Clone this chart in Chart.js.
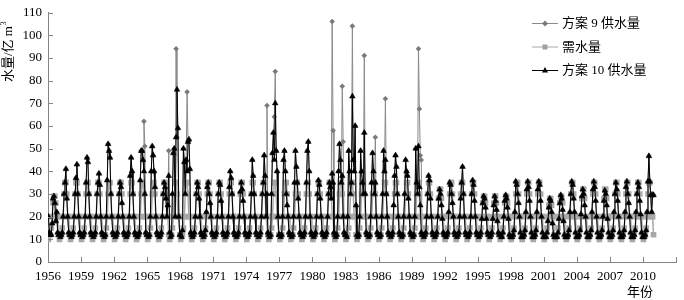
<!DOCTYPE html>
<html>
<head>
<meta charset="utf-8">
<script src="https://cdn.jsdelivr.net/npm/chart.js@4.4.1/dist/chart.umd.min.js"></script>
<style>
  html, body { margin: 0; padding: 0; background: #fff; }
  #wrap { position: relative; width: 684px; height: 300px; }
</style>
</head>
<body>
<div id="wrap"><canvas id="waterChart" width="684" height="300"></canvas></div>
<script>
// monthly series, Jan..Dec, one row per year 1956-2010
const startYear = 1956;
const tickYears = [1956, 1959, 1962, 1965, 1968, 1971, 1974, 1977, 1980, 1983, 1986, 1989, 1992, 1995, 1998, 2001, 2004, 2007, 2010];
const yTicks = [0, 10, 20, 30, 40, 50, 60, 70, 80, 90, 100, 110];

const supply10 = [
  20, 13, 12, 12, 17, 28, 29, 26, 18, 22, 13, 12, // 1956
  12, 11, 12, 13, 20, 30, 35, 41, 28, 20, 13, 12,
  12, 11, 12, 13, 20, 30, 37, 43, 30, 20, 13, 12,
  12, 11, 12, 13, 20, 35, 46, 44, 30, 20, 13, 12,
  12, 11, 12, 13, 20, 30, 35, 39, 34, 20, 13, 12, // 1960
  12, 11, 12, 20, 36, 52, 49, 46, 30, 20, 13, 12,
  12, 11, 12, 13, 20, 30, 35, 33, 26, 20, 13, 12,
  12, 11, 12, 13, 20, 38, 46, 40, 30, 20, 13, 12,
  12, 11, 12, 13, 36, 49, 49, 45, 40, 30, 13, 12,
  12, 11, 12, 20, 40, 51, 47, 40, 33, 20, 13, 12, // 1965
  12, 11, 12, 13, 20, 30, 35, 33, 28, 20, 25, 38,
  13, 11, 12, 30, 48, 50, 20, 55, 76, 59, 20, 12,
  12, 11, 14, 50, 44, 30, 45, 40, 53, 54, 41, 13,
  12, 11, 12, 13, 20, 30, 35, 33, 28, 20, 13, 12,
  12, 11, 12, 14, 22, 33, 35, 30, 26, 20, 13, 12, // 1970
  12, 11, 12, 13, 20, 30, 35, 34, 27, 20, 13, 12,
  12, 11, 12, 13, 20, 33, 40, 37, 30, 20, 13, 12,
  12, 11, 12, 13, 20, 31, 35, 32, 27, 20, 13, 12,
  12, 11, 12, 13, 20, 30, 45, 38, 30, 20, 13, 12,
  12, 11, 12, 13, 20, 30, 35, 47, 38, 20, 30, 13, // 1975
  12, 11, 12, 30, 48, 57, 45, 70, 49, 40, 20, 12,
  12, 11, 12, 20, 45, 49, 40, 30, 25, 20, 13, 12,
  12, 11, 12, 20, 35, 49, 42, 35, 28, 20, 13, 12,
  12, 11, 12, 13, 20, 35, 49, 53, 40, 20, 13, 12,
  12, 11, 12, 13, 20, 30, 36, 34, 28, 20, 13, 12, // 1980
  12, 11, 12, 13, 20, 30, 35, 33, 28, 39, 35, 13,
  12, 11, 12, 20, 40, 52, 45, 35, 38, 20, 13, 12,
  12, 11, 20, 49, 40, 30, 35, 73, 45, 40, 60, 25,
  12, 11, 12, 20, 49, 40, 35, 30, 57, 30, 13, 12,
  12, 11, 12, 20, 35, 48, 40, 30, 35, 20, 13, 12, // 1985
  12, 11, 12, 20, 30, 49, 40, 45, 30, 20, 13, 12,
  12, 11, 12, 13, 25, 38, 47, 42, 30, 20, 13, 12,
  12, 11, 12, 20, 30, 45, 40, 38, 28, 20, 13, 12,
  12, 11, 12, 20, 50, 35, 30, 51, 33, 25, 13, 12,
  12, 11, 12, 13, 20, 30, 38, 36, 28, 20, 13, 12, // 1990
  12, 11, 12, 13, 20, 28, 32, 30, 25, 19, 13, 12,
  12, 11, 12, 13, 22, 35, 34, 30, 26, 20, 13, 12,
  12, 11, 12, 13, 20, 28, 35, 42, 30, 20, 13, 12,
  12, 11, 12, 13, 20, 30, 36, 34, 27, 20, 13, 12,
  12, 11, 12, 13, 19, 26, 29, 28, 24, 19, 13, 12, // 1995
  12, 11, 12, 13, 19, 25, 29, 27, 23, 18, 13, 12,
  12, 11, 11, 13, 20, 27, 29.5, 28, 24, 19, 12, 11,
  11, 11, 12, 14, 22, 35.5, 34, 30, 26, 20, 13, 11,
  11, 11, 12, 14, 22, 32, 35.5, 33, 27, 20, 13, 11,
  11, 11, 12, 14, 22, 32, 35.5, 34, 27, 20, 13, 11, // 2000
  11, 11, 11, 13, 18, 24, 28, 27, 22, 17, 12, 11,
  11, 11, 11, 13, 19, 26, 29.5, 28, 23, 18, 12, 11,
  11, 11, 12, 14, 22, 30, 35.5, 34, 28, 22, 13, 11,
  11, 11, 12, 14, 21, 29, 32, 30, 25, 20, 13, 11,
  11, 11, 12, 14, 22, 32, 35.5, 33, 27, 20, 13, 11, // 2005
  11, 11, 12, 14, 20, 27, 31.5, 30, 25, 19, 13, 11,
  11, 11, 12, 14, 22, 30, 35, 32, 27, 20, 13, 11,
  11, 11, 12, 14, 22, 33, 35.5, 30, 26, 20, 13, 11,
  11, 11, 12, 14, 22, 30, 35, 33, 27, 21, 13, 11,
  11, 11, 12, 14, 22, 35.5, 46.7, 35.5, 29.5, 22, 29.5, 29.5 // 2010
];

const supply9 = [
  20, 13, 12, 12, 17, 28, 29, 26, 18, 22, 13, 12, // 1956
  12, 11, 12, 13, 20, 30, 35, 41, 28, 20, 13, 12,
  12, 11, 12, 13, 20, 30, 37, 43, 30, 20, 13, 12,
  12, 11, 12, 13, 20, 35, 46, 44, 30, 20, 13, 12,
  12, 11, 12, 13, 20, 30, 35, 39, 34, 20, 13, 12, // 1960
  12, 11, 12, 20, 36, 52, 49, 46, 30, 20, 13, 12,
  12, 11, 12, 13, 20, 30, 35, 33, 26, 20, 13, 12,
  12, 11, 12, 13, 20, 38, 46, 40, 30, 20, 13, 12,
  12, 11, 12, 13, 36, 49, 49, 45, 62, 51, 13, 12,
  12, 11, 12, 20, 40, 51, 47, 40, 33, 20, 13, 12, // 1965
  12, 11, 12, 13, 20, 30, 35, 33, 28, 20, 25, 49,
  13, 11, 12, 30, 48, 50, 20, 94, 55, 59, 20, 12,
  12, 11, 14, 50, 44, 30, 45, 75, 53, 54, 41, 13,
  12, 11, 12, 13, 20, 30, 35, 33, 28, 20, 13, 12,
  12, 11, 12, 14, 22, 33, 35, 30, 26, 20, 13, 12, // 1970
  12, 11, 12, 13, 20, 30, 35, 34, 27, 20, 13, 12,
  12, 11, 12, 13, 20, 33, 40, 37, 30, 20, 13, 12,
  12, 11, 12, 13, 20, 31, 35, 32, 27, 20, 13, 12,
  12, 11, 12, 13, 20, 30, 45, 38, 30, 20, 13, 12,
  12, 11, 12, 13, 20, 30, 35, 47, 38, 20, 69, 13, // 1975
  12, 11, 12, 30, 48, 57, 64, 84, 49, 40, 20, 12,
  12, 11, 12, 20, 45, 49, 40, 30, 25, 20, 13, 12,
  12, 11, 12, 20, 35, 49, 42, 35, 28, 20, 13, 12,
  12, 11, 12, 13, 20, 35, 49, 53, 40, 20, 13, 12,
  12, 11, 12, 13, 20, 30, 36, 34, 28, 20, 13, 12, // 1980
  12, 11, 12, 13, 20, 30, 35, 33, 28, 106, 58, 13,
  12, 11, 12, 20, 40, 52, 45, 35, 77.5, 53, 13, 12,
  12, 11, 20, 49, 40, 30, 35, 104, 45, 40, 60, 25,
  12, 11, 12, 20, 49, 40, 35, 30, 91, 30, 13, 12,
  12, 11, 12, 20, 35, 48, 40, 30, 55, 20, 13, 12, // 1985
  12, 11, 12, 20, 30, 49, 40, 72, 30, 20, 13, 12,
  12, 11, 12, 13, 25, 38, 47, 42, 30, 20, 13, 12,
  12, 11, 12, 20, 30, 45, 40, 38, 28, 20, 13, 12,
  12, 11, 12, 20, 50, 35, 30, 94, 67.5, 47, 45, 12,
  12, 11, 12, 13, 20, 30, 38, 36, 28, 20, 13, 12, // 1990
  12, 11, 12, 13, 20, 28, 32, 30, 25, 19, 13, 12,
  12, 11, 12, 13, 22, 35, 34, 30, 26, 20, 13, 12,
  12, 11, 12, 13, 20, 28, 35, 42, 30, 20, 13, 12,
  12, 11, 12, 13, 20, 30, 36, 34, 27, 20, 13, 12,
  12, 11, 12, 13, 19, 26, 29, 28, 24, 19, 13, 12, // 1995
  12, 11, 12, 13, 19, 25, 29, 27, 23, 18, 13, 12,
  12, 11, 11, 13, 20, 27, 29.5, 28, 24, 19, 12, 11,
  11, 11, 12, 14, 22, 35.5, 34, 30, 26, 20, 13, 11,
  11, 11, 12, 14, 22, 32, 35.5, 33, 27, 20, 13, 11,
  11, 11, 12, 14, 22, 32, 35.5, 34, 27, 20, 13, 11, // 2000
  11, 11, 11, 13, 18, 24, 28, 27, 22, 17, 12, 11,
  11, 11, 11, 13, 19, 26, 29.5, 28, 23, 18, 12, 11,
  11, 11, 12, 14, 22, 30, 35.5, 34, 28, 22, 13, 11,
  11, 11, 12, 14, 21, 29, 32, 30, 25, 20, 13, 11,
  11, 11, 12, 14, 22, 32, 35.5, 33, 27, 20, 13, 11, // 2005
  11, 11, 12, 14, 20, 27, 31.5, 30, 25, 19, 13, 11,
  11, 11, 12, 14, 22, 30, 35, 32, 27, 20, 13, 11,
  11, 11, 12, 14, 22, 33, 35.5, 30, 26, 20, 13, 11,
  11, 11, 12, 14, 22, 30, 35, 33, 27, 21, 13, 11,
  11, 11, 12, 14, 22, 35.5, 46.7, 35.5, 29.5, 22, 29.5, 29.5 // 2010
];

const demand = [
  10, 12, 12, 15, 20, 26, 29, 29, 26, 20, 20, 12, // 1956
  10, 12, 12, 15, 20, 30, 35, 35, 30, 20, 20, 12,
  10, 12, 12, 15, 20, 30, 35, 35, 30, 20, 20, 12,
  10, 12, 12, 15, 20, 30, 35, 35, 30, 20, 20, 12,
  10, 12, 12, 15, 20, 30, 35, 35, 30, 20, 20, 12, // 1960
  10, 12, 12, 15, 20, 30, 35, 35, 30, 20, 20, 12,
  10, 12, 12, 15, 20, 30, 35, 35, 30, 20, 20, 12,
  10, 12, 12, 15, 20, 30, 35, 35, 30, 20, 20, 12,
  10, 12, 12, 15, 20, 30, 35, 35, 30, 20, 20, 12,
  10, 12, 12, 15, 20, 30, 35, 35, 30, 20, 20, 12, // 1965
  10, 12, 12, 15, 20, 30, 35, 35, 30, 20, 20, 12,
  10, 12, 12, 15, 20, 30, 35, 35, 30, 20, 20, 12,
  10, 12, 12, 15, 20, 30, 35, 35, 30, 20, 20, 12,
  10, 12, 12, 15, 20, 30, 35, 35, 30, 20, 20, 12,
  10, 12, 12, 15, 20, 30, 35, 35, 30, 20, 20, 12, // 1970
  10, 12, 12, 15, 20, 30, 35, 35, 30, 20, 20, 12,
  10, 12, 12, 15, 20, 30, 35, 35, 30, 20, 20, 12,
  10, 12, 12, 15, 20, 30, 35, 35, 30, 20, 20, 12,
  10, 12, 12, 15, 20, 30, 35, 35, 30, 20, 20, 12,
  10, 12, 12, 15, 20, 30, 35, 35, 30, 20, 20, 12, // 1975
  10, 12, 12, 15, 20, 30, 35, 35, 30, 20, 20, 12,
  10, 12, 12, 15, 20, 30, 35, 35, 30, 20, 20, 12,
  10, 12, 12, 15, 20, 30, 35, 35, 30, 20, 20, 12,
  10, 12, 12, 15, 20, 30, 35, 35, 30, 20, 20, 12,
  10, 12, 12, 15, 20, 30, 35, 35, 30, 20, 20, 12, // 1980
  10, 12, 12, 15, 20, 30, 35, 35, 30, 20, 20, 12,
  10, 12, 12, 15, 20, 30, 35, 35, 30, 20, 20, 12,
  10, 12, 12, 15, 20, 30, 35, 35, 30, 20, 20, 12,
  10, 12, 12, 15, 20, 30, 35, 35, 30, 20, 20, 12,
  10, 12, 12, 15, 20, 30, 35, 35, 30, 20, 20, 12, // 1985
  10, 12, 12, 15, 20, 30, 35, 35, 30, 20, 20, 12,
  10, 12, 12, 15, 20, 30, 35, 35, 30, 20, 20, 12,
  10, 12, 12, 15, 20, 30, 35, 35, 30, 20, 20, 12,
  10, 12, 12, 15, 20, 30, 35, 35, 30, 20, 20, 12,
  10, 12, 12, 15, 20, 30, 35, 35, 30, 20, 20, 12, // 1990
  10, 12, 12, 15, 20, 28, 32, 32, 28, 20, 20, 12,
  10, 12, 12, 15, 20, 30, 35, 35, 30, 20, 20, 12,
  10, 12, 12, 15, 20, 30, 35, 35, 30, 20, 20, 12,
  10, 12, 12, 15, 20, 30, 35, 35, 30, 20, 20, 12,
  10, 12, 12, 15, 20, 26, 29, 29, 26, 20, 20, 12, // 1995
  10, 12, 12, 15, 20, 26, 29, 29, 26, 20, 20, 12,
  10, 12, 12, 15, 20, 26, 29, 29, 26, 20, 20, 12,
  10, 12, 12, 15, 20, 30, 35, 35, 30, 20, 20, 12,
  10, 12, 12, 15, 20, 30, 35, 35, 30, 20, 20, 12,
  10, 12, 12, 15, 20, 30, 35, 35, 30, 20, 20, 12, // 2000
  10, 12, 12, 15, 20, 25, 28, 28, 25, 20, 20, 12,
  10, 12, 12, 15, 20, 26, 29, 29, 26, 20, 20, 12,
  10, 12, 12, 15, 20, 30, 35, 35, 30, 20, 20, 12,
  10, 12, 12, 15, 20, 28, 32, 32, 28, 20, 20, 12,
  10, 12, 12, 15, 20, 30, 35, 35, 30, 20, 20, 12, // 2005
  10, 12, 12, 15, 20, 28, 32, 32, 28, 20, 20, 12,
  10, 12, 12, 15, 20, 30, 35, 35, 30, 20, 20, 12,
  10, 12, 12, 15, 20, 30, 35, 35, 30, 20, 20, 12,
  10, 12, 12, 15, 20, 30, 35, 35, 30, 20, 20, 12,
  10, 12, 12, 15, 20, 30, 35, 35, 30, 20, 20, 12  // 2010
];

const seriesNames = ['方案 9 供水量', '需水量', '方案 10 供水量'];

const axisColor = '#868686';
const serif = '"Liberation Serif", "Noto Sans CJK SC", serif';

// month index -> x value (category centre)
const toPoints = (arr) => arr.map((v, i) => ({ x: i + 0.5, y: v }));
const xTickValues = tickYears.map(y => (y - startYear) * 12).concat([684]);

const legendItems = [
  { text: seriesNames[0], line: '#8a8a8a', fill: '#7a7a7a', shape: 'diamond' },
  { text: seriesNames[1], line: '#a8a8a8', fill: '#a0a0a0', shape: 'square' },
  { text: seriesNames[2], line: '#000000', fill: '#000000', shape: 'triangle' }
];

function drawMarker(ctx, shape, x, y) {
  ctx.beginPath();
  if (shape === 'diamond') {
    ctx.moveTo(x, y - 3); ctx.lineTo(x + 3, y); ctx.lineTo(x, y + 3); ctx.lineTo(x - 3, y);
  } else if (shape === 'square') {
    ctx.rect(x - 2.5, y - 2.5, 5, 5);
  } else {
    ctx.moveTo(x, y - 3.5); ctx.lineTo(x + 3, y + 2); ctx.lineTo(x - 3, y + 2);
  }
  ctx.closePath();
  ctx.fill();
}

const decor = {
  id: 'decor',
  afterDraw(chart) {
    const { ctx, chartArea: a, scales: { x, y } } = chart;
    ctx.save();
    // inward tick marks
    ctx.strokeStyle = axisColor;
    ctx.lineWidth = 1;
    ctx.beginPath();
    y.ticks.forEach(t => {
      const py = Math.round(y.getPixelForValue(t.value)) + 0.5;
      ctx.moveTo(a.left, py); ctx.lineTo(a.left + 5, py);
    });
    x.ticks.forEach(t => {
      const px = Math.round(x.getPixelForValue(t.value)) + 0.5;
      ctx.moveTo(px, a.bottom); ctx.lineTo(px, a.bottom - 5);
    });
    ctx.stroke();

    // axis titles
    ctx.fillStyle = '#000';
    ctx.font = '13px ' + serif;
    ctx.textAlign = 'center';
    ctx.textBaseline = 'middle';
    ctx.fillText('年份', 640, 293);

    ctx.save();
    ctx.translate(9, 82);
    ctx.rotate(-Math.PI / 2);
    ctx.textAlign = 'left';
    const t = '水量/亿 m';
    ctx.fillText(t, 0, 0);
    const w = ctx.measureText(t).width;
    ctx.font = '8px ' + serif;
    ctx.fillText('3', w + 0.5, -5);
    ctx.restore();

    // legend
    ctx.font = '13px ' + serif;
    ctx.textAlign = 'left';
    legendItems.forEach((it, i) => {
      const ly = 23 + i * 23.5;
      ctx.strokeStyle = it.line;
      ctx.beginPath();
      ctx.moveTo(532, ly + 0.5); ctx.lineTo(558, ly + 0.5);
      ctx.stroke();
      ctx.fillStyle = it.fill;
      drawMarker(ctx, it.shape, 545, ly + 0.5);
      ctx.fillStyle = '#000';
      ctx.fillText(it.text, 562, ly + 1);
    });
    ctx.restore();
  }
};

const ctx = document.getElementById('waterChart').getContext('2d');

new Chart(ctx, {
  type: 'line',
  data: {
    datasets: [
      {
        label: seriesNames[2],
        data: toPoints(supply10),
        borderColor: '#000',
        backgroundColor: '#000',
        borderWidth: 1,
        pointStyle: 'triangle',
        pointRadius: 3.3,
        pointBorderWidth: 0.5,
        pointBorderColor: '#000',
        pointBackgroundColor: '#000',
        tension: 0
      },
      {
        label: seriesNames[1],
        data: toPoints(demand),
        borderColor: '#a8a8a8',
        backgroundColor: '#a8a8a8',
        borderWidth: 1.5,
        pointStyle: 'rect',
        pointRadius: 4,
        pointBorderWidth: 0,
        pointBackgroundColor: '#a8a8a8',
        tension: 0
      },
      {
        label: seriesNames[0],
        data: toPoints(supply9),
        borderColor: '#8a8a8a',
        backgroundColor: '#7a7a7a',
        borderWidth: 1,
        pointStyle: 'rectRot',
        pointRadius: 2.8,
        pointBorderWidth: 0,
        pointBackgroundColor: '#7a7a7a',
        tension: 0
      }
    ]
  },
  options: {
    responsive: false,
    animation: false,
    events: [],
    layout: { padding: { top: 6, right: 1, left: 0, bottom: 0 } },
    plugins: {
      legend: { display: false },
      tooltip: { enabled: false }
    },
    scales: {
      x: {
        type: 'linear',
        min: 0,
        max: 684,
        afterBuildTicks: (scale) => { scale.ticks = xTickValues.map(v => ({ value: v })); },
        afterFit: (scale) => { scale.height = 38; },
        grid: { display: false, drawTicks: false },
        border: { display: true, color: axisColor, width: 1 },
        ticks: {
          autoSkip: false,
          maxRotation: 0,
          padding: 8,
          color: '#000',
          font: { family: serif, size: 13, lineHeight: 1 },
          callback: (v) => (v <= 648 ? String(startYear + v / 12) : '')
        }
      },
      y: {
        min: 0,
        max: 110,
        afterBuildTicks: (scale) => { scale.ticks = yTicks.map(v => ({ value: v })); },
        afterFit: (scale) => { scale.width = 48; },
        grid: { display: false, drawTicks: false },
        border: { display: true, color: axisColor, width: 1 },
        ticks: {
          padding: 6,
          color: '#000',
          font: { family: serif, size: 13, lineHeight: 1 }
        }
      }
    }
  },
  plugins: [decor]
});
</script>
</body>
</html>
